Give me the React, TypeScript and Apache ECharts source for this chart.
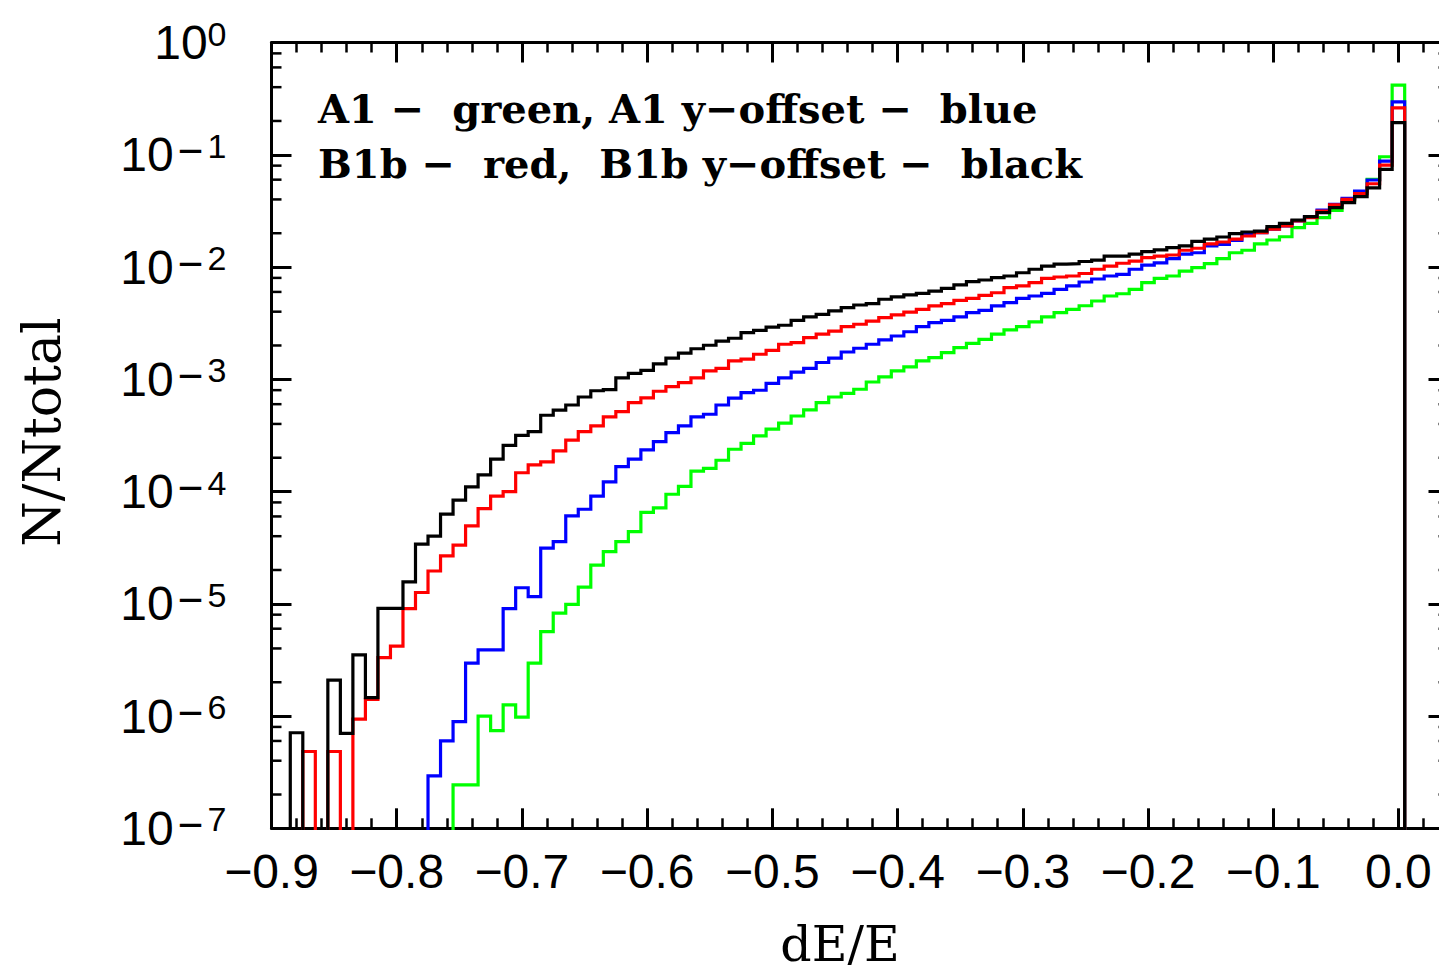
import React, { useEffect, useRef } from "react";
import * as echarts from "echarts";

// Histogram binning: bins centred on -0.89, -0.88, ..., 0.00 (width 0.01)
const BIN_FIRST = -0.89;
const BIN_WIDTH = 0.01;

// N/Ntotal per bin, from -0.89 to 0.00 (0 = empty bin)
const a1Green: number[] = [
  0, 0, 0, 0, 0, 0, 0, 0, 0, 0,
  0, 0, 0, 0, 2.44e-7, 2.44e-7, 1.0e-6, 7.4e-7, 1.26e-6, 9.8e-7,
  2.96e-6, 5.65e-6, 8.24e-6, 9.9e-6, 1.41e-5, 2.21e-5, 2.92e-5, 3.58e-5, 4.4e-5, 6.51e-5,
  7.14e-5, 9.46e-5, 1.11e-4, 1.52e-4, 1.61e-4, 1.9e-4, 2.38e-4, 2.69e-4, 3.13e-4, 3.59e-4,
  4.06e-4, 4.71e-4, 5.33e-4, 6.19e-4, 6.95e-4, 7.5e-4, 8.15e-4, 9.46e-4, 1.05e-3, 1.19e-3,
  1.29e-3, 1.46e-3, 1.56e-3, 1.73e-3, 1.91e-3, 2.09e-3, 2.27e-3, 2.52e-3, 2.75e-3, 2.94e-3,
  3.24e-3, 3.59e-3, 3.92e-3, 4.2e-3, 4.52e-3, 4.98e-3, 5.52e-3, 5.78e-3, 6.33e-3, 7.25e-3,
  7.93e-3, 8.32e-3, 9.21e-3, 9.86e-3, 1.07e-2, 1.19e-2, 1.34e-2, 1.41e-2, 1.61e-2, 1.74e-2,
  1.86e-2, 2.24e-2, 2.45e-2, 2.75e-2, 3.2e-2, 3.93e-2, 4.66e-2, 6.04e-2, 9.6e-2, 0.418,
];

const a1OffsetBlue: number[] = [
  0, 0, 0, 0, 0, 0, 0, 0, 0, 0,
  0, 0, 2.93e-7, 6.0e-7, 8.9e-7, 2.96e-6, 3.89e-6, 3.89e-6, 9.06e-6, 1.39e-5,
  1.16e-5, 3.13e-5, 3.58e-5, 6.07e-5, 6.95e-5, 9.1e-5, 1.22e-4, 1.67e-4, 1.94e-4, 2.35e-4,
  2.78e-4, 3.35e-4, 3.84e-4, 4.62e-4, 4.88e-4, 5.9e-4, 6.78e-4, 7.6e-4, 7.98e-4, 9.21e-4,
  1.03e-3, 1.16e-3, 1.25e-3, 1.41e-3, 1.54e-3, 1.75e-3, 1.89e-3, 2.05e-3, 2.24e-3, 2.43e-3,
  2.65e-3, 2.94e-3, 3.19e-3, 3.35e-3, 3.59e-3, 3.92e-3, 4.11e-3, 4.5e-3, 4.81e-3, 5.26e-3,
  5.52e-3, 5.83e-3, 6.33e-3, 6.78e-3, 7.35e-3, 7.82e-3, 8.32e-3, 8.61e-3, 9.55e-3, 1.04e-2,
  1.09e-2, 1.19e-2, 1.3e-2, 1.34e-2, 1.54e-2, 1.59e-2, 1.73e-2, 1.95e-2, 2.02e-2, 2.17e-2,
  2.32e-2, 2.57e-2, 2.81e-2, 3.22e-2, 3.61e-2, 4.09e-2, 4.75e-2, 5.96e-2, 8.79e-2, 0.296,
];

const b1bRed: number[] = [
  0, 0, 4.83e-7, 0, 4.83e-7, 0, 9.4e-7, 1.41e-6, 3.32e-6, 4.2e-6,
  9.06e-6, 1.26e-5, 1.96e-5, 2.67e-5, 3.33e-5, 4.94e-5, 7.05e-5, 9.1e-5, 9.98e-5, 1.47e-4,
  1.73e-4, 1.84e-4, 2.3e-4, 2.87e-4, 3.41e-4, 3.84e-4, 4.62e-4, 5.14e-4, 6.19e-4, 6.83e-4,
  7.82e-4, 8.59e-4, 9.33e-4, 1.03e-3, 1.19e-3, 1.25e-3, 1.46e-3, 1.51e-3, 1.67e-3, 1.81e-3,
  2.05e-3, 2.12e-3, 2.35e-3, 2.52e-3, 2.69e-3, 2.94e-3, 3.09e-3, 3.3e-3, 3.54e-3, 3.74e-3,
  3.97e-3, 4.2e-3, 4.5e-3, 4.71e-3, 5.05e-3, 5.26e-3, 5.6e-3, 5.9e-3, 6.55e-3, 6.78e-3,
  7.25e-3, 7.93e-3, 8.15e-3, 8.32e-3, 8.75e-3, 9.55e-3, 1.02e-2, 1.08e-2, 1.13e-2, 1.21e-2,
  1.25e-2, 1.28e-2, 1.41e-2, 1.47e-2, 1.61e-2, 1.67e-2, 1.77e-2, 1.89e-2, 2.02e-2, 2.17e-2,
  2.32e-2, 2.57e-2, 2.75e-2, 3.15e-2, 3.57e-2, 4.01e-2, 4.5e-2, 5.52e-2, 8.09e-2, 0.262,
];

const b1bOffsetBlack: number[] = [
  0, 7.1e-7, 0, 0, 2.09e-6, 7.0e-7, 3.5e-6, 1.46e-6, 9.1e-6, 9.1e-6,
  1.57e-5, 3.4e-5, 4.0e-5, 6.3e-5, 8.4e-5, 1.1e-4, 1.41e-4, 1.94e-4, 2.58e-4, 3.17e-4,
  3.41e-4, 4.78e-4, 5.3e-4, 5.9e-4, 6.95e-4, 7.9e-4, 8.1e-4, 1.03e-3, 1.13e-3, 1.2e-3,
  1.37e-3, 1.54e-3, 1.71e-3, 1.87e-3, 2.01e-3, 2.19e-3, 2.32e-3, 2.6e-3, 2.73e-3, 2.92e-3,
  3.03e-3, 3.35e-3, 3.59e-3, 3.79e-3, 4.06e-3, 4.35e-3, 4.59e-3, 4.71e-3, 5.16e-3, 5.41e-3,
  5.64e-3, 5.83e-3, 6.11e-3, 6.46e-3, 6.92e-3, 7.4e-3, 7.66e-3, 8.03e-3, 8.32e-3, 8.89e-3,
  9.55e-3, 1.02e-2, 1.06e-2, 1.07e-2, 1.12e-2, 1.15e-2, 1.25e-2, 1.25e-2, 1.3e-2, 1.37e-2,
  1.42e-2, 1.49e-2, 1.54e-2, 1.69e-2, 1.77e-2, 1.85e-2, 1.98e-2, 2.05e-2, 2.09e-2, 2.29e-2,
  2.45e-2, 2.62e-2, 2.81e-2, 3.05e-2, 3.38e-2, 3.74e-2, 4.23e-2, 5.08e-2, 7.41e-2, 0.193,
];

// Minor ticks of the log axis (2, 4, 6, 8 x 10^n)
const yMinorTicks: number[] = [
  2e-7, 4e-7, 6e-7, 8e-7, 2e-6, 4e-6, 6e-6, 8e-6, 2e-5, 4e-5, 6e-5, 8e-5,
  2e-4, 4e-4, 6e-4, 8e-4, 2e-3, 4e-3, 6e-3, 8e-3, 2e-2, 4e-2, 6e-2, 8e-2,
  0.2, 0.4, 0.6, 0.8,
];

const legendLines: string[] = [
  "A1 \u2212  green, A1 y\u2212offset \u2212  blue",
  "B1b \u2212  red,  B1b y\u2212offset \u2212  black",
];

const X_MIN = -0.9;
const X_MAX = 0.04;
const Y_MIN = 1e-7;
const Y_MAX = 1;
const FLOOR = 1e-12;

const AXIS_FONT = "'Liberation Sans', Arial, sans-serif";
const SERIF = "'DejaVu Serif', 'Liberation Serif', serif";

function stepPoints(vals: number[]): number[][] {
  const pts: number[][] = [];
  const first = BIN_FIRST - BIN_WIDTH / 2;
  pts.push([first, FLOOR]);
  vals.forEach((v, i) => {
    const c = BIN_FIRST + i * BIN_WIDTH;
    const y = v > 0 ? v : FLOOR;
    pts.push([c - BIN_WIDTH / 2, y], [c + BIN_WIDTH / 2, y]);
  });
  const lastEdge = BIN_FIRST + (vals.length - 1) * BIN_WIDTH + BIN_WIDTH / 2;
  pts.push([lastEdge, FLOOR]);
  return pts;
}

function fmtX(v: number): string {
  const t = v * 10;
  if (Math.abs(t - Math.round(t)) > 1e-6) return "";
  if (Math.abs(v) < 1e-9) return "0.0";
  return (v < 0 ? "\u2212" : "") + Math.abs(v).toFixed(1);
}

function fmtY(v: number): string {
  const e = Math.round(Math.log10(v));
  if (e < 0) return "{b|10}{m|\u2212}{s|" + Math.abs(e) + "}";
  return "{b|10}{s|" + e + "}";
}

export default function App() {
  const ref = useRef<HTMLDivElement>(null);

  useEffect(() => {
    if (!ref.current) return;
    const chart = echarts.init(ref.current, null, { renderer: "svg" });

    const axisLine = { show: true, onZero: false, lineStyle: { color: "#000", width: 3 } };
    const axisTick = { show: true, inside: true, length: 20, lineStyle: { color: "#000", width: 3 } };

    const xBase = {
      type: "value",
      min: X_MIN,
      max: X_MAX,
      interval: 0.1,
      gridIndex: 0,
      axisLine,
      axisTick,
      minorTick: { show: true, splitNumber: 5, length: 10, lineStyle: { color: "#000", width: 2.5 } },
      splitLine: { show: false },
      minorSplitLine: { show: false },
    };
    const yBase = {
      type: "log",
      logBase: 10,
      min: Y_MIN,
      max: Y_MAX,
      gridIndex: 0,
      axisLine,
      axisTick,
      splitLine: { show: false },
    };

    const mkSeries = (name: string, vals: number[], color: string) => ({
      name,
      type: "line",
      data: stepPoints(vals),
      showSymbol: false,
      symbol: "none",
      clip: true,
      lineStyle: { color, width: 3.2, join: "miter" },
      silent: true,
    });

    const option: any = {
      animation: false,
      backgroundColor: "#ffffff",
      grid: { left: 271.5, top: 42.5, width: 1177, height: 785.8, show: false },
      xAxis: [
        {
          ...xBase,
          position: "bottom",
          axisLabel: {
            show: true,
            margin: 19,
            fontSize: 48,
            fontFamily: AXIS_FONT,
            color: "#000",
            showMaxLabel: false,
            formatter: fmtX,
          },
        },
        { ...xBase, position: "top", axisLabel: { show: false } },
      ],
      yAxis: [
        {
          ...yBase,
          position: "left",
          axisLabel: {
            show: true,
            margin: 45,
            color: "#000",
            formatter: fmtY,
            rich: {
              b: { fontSize: 48, fontFamily: AXIS_FONT, color: "#000", lineHeight: 52 },
              m: {
                fontSize: 44,
                fontFamily: AXIS_FONT,
                color: "#000",
                lineHeight: 12,
                width: 34,
                align: "left",
                verticalAlign: "top",
              },
              s: { fontSize: 34, fontFamily: AXIS_FONT, color: "#000", lineHeight: 30, verticalAlign: "top" },
            },
          },
        },
        { ...yBase, position: "right", axisLabel: { show: false } },
      ],
      series: [
        mkSeries("A1", a1Green, "#00ff00"),
        mkSeries("A1 y-offset", a1OffsetBlue, "#0000ff"),
        mkSeries("B1b", b1bRed, "#ff0000"),
        mkSeries("B1b y-offset", b1bOffsetBlack, "#000000"),
        {
          type: "custom",
          name: "minor ticks",
          silent: true,
          encode: { x: 0, y: 1 },
          data: yMinorTicks.map((v) => [X_MIN, v]),
          renderItem: (params: any, api: any) => {
            const y = api.coord([api.value(0), api.value(1)])[1];
            const cs = params.coordSys;
            const st = { stroke: "#000", lineWidth: 2.5 };
            return {
              type: "group",
              children: [
                { type: "line", shape: { x1: cs.x, y1: y, x2: cs.x + 10, y2: y }, style: st },
                { type: "line", shape: { x1: cs.x + cs.width, y1: y, x2: cs.x + cs.width - 10, y2: y }, style: st },
              ],
            };
          },
        },
      ],
      graphic: [
        {
          type: "text",
          x: 318,
          y: 108,
          style: { text: legendLines[0], font: "bold 40px " + SERIF, fill: "#000", align: "left", verticalAlign: "middle" },
        },
        {
          type: "text",
          x: 318,
          y: 163,
          style: { text: legendLines[1], font: "bold 40px " + SERIF, fill: "#000", align: "left", verticalAlign: "middle" },
        },
        {
          type: "text",
          x: 840,
          y: 944,
          style: { text: "dE/E", font: "49px " + SERIF, fill: "#000", align: "center", verticalAlign: "middle" },
        },
        {
          type: "text",
          x: 42,
          y: 432,
          rotation: Math.PI / 2,
          style: { text: "N/Ntotal", font: "52px " + SERIF, fill: "#000", align: "center", verticalAlign: "middle" },
        },
      ],
    };

    chart.setOption(option);
    return () => chart.dispose();
  }, []);

  return (
    <div
      style={{
        position: "fixed",
        left: 0,
        top: 0,
        width: 1439,
        height: 974,
        overflow: "hidden",
        background: "#fff",
      }}
    >
      <div ref={ref} style={{ width: 1470, height: 974 }} />
    </div>
  );
}
